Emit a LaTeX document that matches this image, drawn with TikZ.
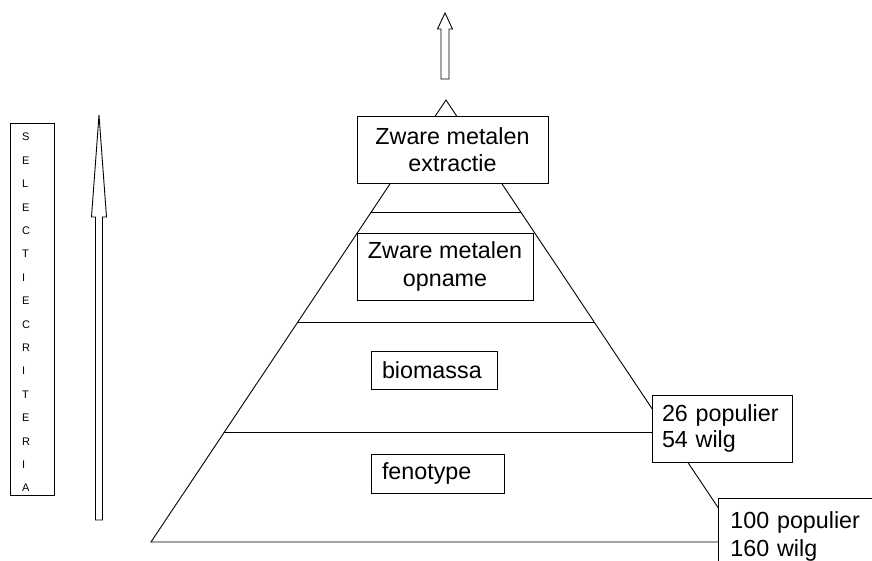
\documentclass[tikz,border=0pt]{standalone}
\usepackage{fontspec}
\setmainfont{Liberation Sans}
\usetikzlibrary{calc}
\begin{document}
\begin{tikzpicture}[x=1pt,y=-1pt,line width=0.9pt,
  box/.style={draw,fill=white,inner sep=0pt,font=\fontsize{23.3}{27.5}\selectfont},
  hollowarrow/.style={draw,fill=white,line width=0.9pt}]
\useasboundingbox (0,0) rectangle (872,561);
\clip (0,0) rectangle (872,561);
% pyramid
\coordinate (apex) at (446,100);
\coordinate (bl) at (151,542);
\coordinate (br) at (741,542);
\draw (bl) -- (apex) -- (br) -- cycle;
\foreach \t in {0.2534,0.5023,0.7511}
  \draw ($(apex)!\t!(bl)$) -- ($(apex)!\t!(br)$);
% arrows
\draw[hollowarrow] (441,79) -- (441,29) -- (437.5,29) -- (445,13) -- (452.5,29) -- (449,29) -- (449,79) -- cycle;
\draw[hollowarrow] (95.5,520) -- (95.5,217) -- (91.5,217) -- (99,115) -- (106.5,217) -- (102.5,217) -- (102.5,520) -- cycle;
% left label box
\node[draw,fill=white,inner sep=0pt,minimum width=44pt,minimum height=372pt,
  text width=20pt,align=left,text height=15pt,font=\fontsize{11}{23.4}\selectfont] (sel) at (32,309)
  {S\\E\\L\\E\\C\\T\\I\\E\\C\\R\\I\\T\\E\\R\\I\\A};
% boxes
\node[box,minimum width=191pt,minimum height=67pt,align=center] (extr) at (452.5,149.5) {Zware metalen\\extractie};
\node[box,minimum width=176pt,minimum height=67pt,align=center] (opn) at (445,266.5) {Zware metalen\\opname};
\node[box,minimum width=126pt,minimum height=38pt,text width=104pt,align=left] (bio) at (434,370) {biomassa};
\node[box,minimum width=133pt,minimum height=39pt,text width=111pt,align=left] (fen) at (437.5,473.5) {fenotype};
\node[box,minimum width=140pt,minimum height=67pt,text width=120pt,align=left,font=\fontsize{23.3}{25.5}\selectfont] (c26) at (722,428.5) {26 populier\\54 wilg};
\node[box,anchor=north west,inner xsep=12pt,inner ysep=13.5pt,text width=150pt,align=left,font=\fontsize{23.3}{28}\selectfont] (c100) at (718,498) {100 populier\\160 wilg};
\end{tikzpicture}
\end{document}
